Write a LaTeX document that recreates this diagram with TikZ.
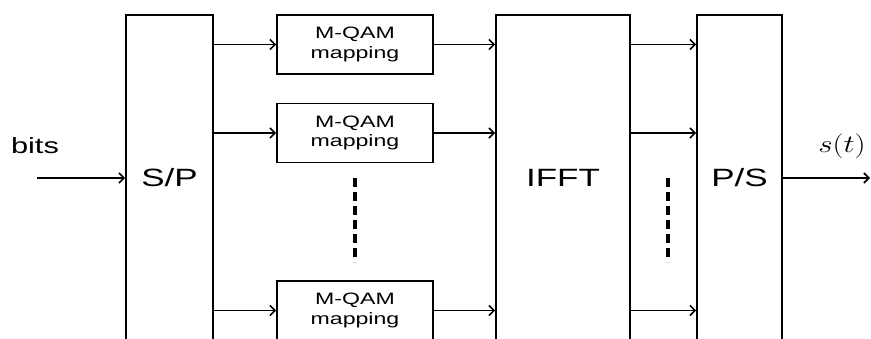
\documentclass[tikz,border=0pt]{standalone}
\usepackage{fontspec}
\setmainfont{Liberation Sans}
\usetikzlibrary{arrows.meta}
\newcommand{\wide}[1]{\scalebox{1.4}[1]{#1}}
\begin{document}
\begin{tikzpicture}[x=1pt,y=-1pt,
  blk/.style={draw, line width=1.8pt, inner sep=0pt, font=\fontsize{25}{28}\selectfont},
  mapbox/.style={draw, line width=1.8pt, inner sep=0pt, minimum width=156pt, minimum height=59pt, align=center, font=\fontsize{16.5}{19.5}\selectfont},
  arr/.style={line width=1.6pt, -{Straight Barb[length=5pt,width=10pt,line width=1.6pt]}},
  dots/.style={line width=4pt, dash pattern=on 9pt off 5pt}]
\useasboundingbox (0,0) rectangle (871,338);
\clip (0,0) rectangle (871,338);
\fill[white] (0,0) rectangle (871,338);
\node[blk, minimum width=87pt, minimum height=326pt] (sp) at (169.5,178) {\wide{S/P}};
\node[blk, minimum width=134pt, minimum height=326pt] (ifft) at (563,178) {\wide{IFFT}};
\node[blk, minimum width=85pt, minimum height=326pt] (ps) at (739.5,178) {\wide{P/S}};
\node[mapbox] (m1) at (355,44.5) {\wide{M-QAM}\\\wide{mapping}};
\node[mapbox] (m2) at (355,133) {\wide{M-QAM}\\\wide{mapping}};
\node[mapbox] (m3) at (355,310.5) {\wide{M-QAM}\\\wide{mapping}};
\coordinate (in) at (37,178);
\coordinate (out) at (870,178);
\node[font=\fontsize{22}{24}\selectfont] (bits) at (35,146) {\wide{bits}};
\node[font=\fontsize{24}{26}\selectfont] (st) at (842,146) {\scalebox{1.25}[1]{$s(t)$}};
\draw[arr] (in) -- (sp.west |- in);
\draw[arr] (ps.east |- out) -- (out);
\foreach \m in {m1,m2,m3}{
  \draw[arr] (sp.east |- \m.west) -- (\m.west);
  \draw[arr] (\m.east) -- (ifft.west |- \m.east);
  \draw[arr] (ifft.east |- \m.east) -- (ps.west |- \m.east);
}
\draw[dots] (355,178) -- (355,262);
\draw[dots] (668,178) -- (668,262);
\end{tikzpicture}
\end{document}
